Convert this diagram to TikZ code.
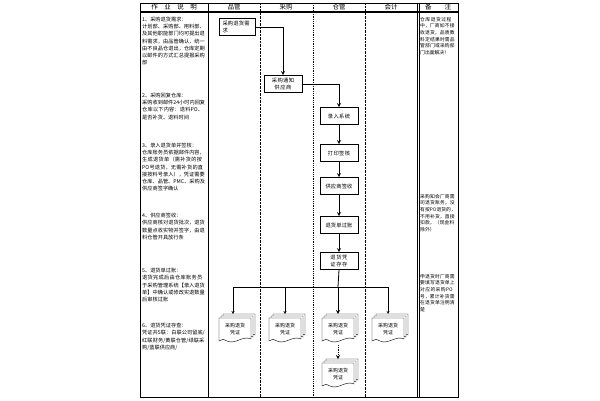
\documentclass[tikz,border=0pt]{standalone}
\usepackage{fontspec}
\setmainfont{Noto Sans CJK SC}
\XeTeXlinebreaklocale "zh"
\XeTeXlinebreakskip=0pt plus 1pt
\usetikzlibrary{positioning}
\tikzset{
  proc/.style={draw, thick, fill=white, minimum width=38pt, minimum height=17pt, inner sep=1.5pt, align=center, text width=29pt, font=\fontsize{5.3}{7}\selectfont},
  note/.style={anchor=north west, align=left, text width=63pt, inner sep=0pt, font=\fontsize{5.2}{7.2}\selectfont},
  head/.style={font=\fontsize{6.5}{7}\selectfont},
  flow/.style={->, >=stealth, thick},
  pics/docstack/.style={code={
    \foreach \d in {4,2,0}{
      \draw[fill=white] (-16+\d,-12-\d) -- (16+\d,-12-\d) -- (16+\d,9-\d)
        .. controls (8+\d,5-\d) and (0+\d,15-\d) .. (-8+\d,11-\d)
        .. controls (-12+\d,9-\d) .. (-16+\d,11-\d) -- cycle;}
    \node[align=center, font=\fontsize{5}{6.5}\selectfont] at (0,-1) {采购退货\\凭证};
  }}
}
\begin{document}
\begin{tikzpicture}[x=1pt, y=-1pt]
\useasboundingbox (0,0) rectangle (600,400);

% table frame
\draw[thick] (140,3) rectangle (458,397);
\draw[thick] (140,11) -- (458,11);
\draw (140,12) -- (458,12);
\draw[thick] (208,3) -- (208,397);
\draw[thick] (417,3) -- (417,397);
\draw (419,3) -- (419,397);
\draw[densely dotted] (260,3) -- (260,397);
\draw[densely dotted, thick] (313,3) -- (313,397);
\draw[densely dotted] (365,3) -- (365,397);

\node[head] (h1) at (174,7) {作\quad 业\quad 说\quad 明};
\node[head] (h2) at (234,7) {品管};
\node[head] (h3) at (286,7) {采购};
\node[head] (h4) at (339,7) {仓管};
\node[head] (h5) at (391,7) {会计};
\node[head] (h6) at (438,7) {备\qquad 注};

% work notes
\node[note] (n1) at (142,17) {1、采购退货需求：\\计划部、采购部、用料部、及其他职能部门均可提出退料需求，由品管确认，统一由不良品仓退出，仓库定期以邮件的方式汇总提报采购部};
\node[note] (n2) at (142,93) {2、采购回复仓库：\\采购收到邮件24小时内回复仓库以下内容：退料PO、是否补货、退料时间};
\node[note] (n3) at (142,143) {3、录入退货单并签核：\\仓库账务员依据邮件内容，生成退货单（需补货的按PO号退货，无需补货的直接按料号录入），凭证需要仓库、品管、PMC、采购及供应商签字确认};
\node[note] (n4) at (142,213) {4、供应商签收：\\供应商核对退货批次，退货数量点收实物并签字，由退料仓管开具放行条};
\node[note] (n5) at (142,268) {5、退货单过账：\\退货完成后由仓库账务员于采购管理系统【录入退货单】中确认或修改实退数量后审核过账};
\node[note] (n6) at (142,323) {6、退货凭证存查：\\凭证共5联：白联公司留底/红联财务/黄联仓管/绿联采购/蓝联供应商/};

% remarks
\node[note, text width=36pt, font=\fontsize{4.8}{6.6}\selectfont] (r1) at (420,17) {仓库退货过程中，厂商如不接收退货，品质教料定结果时需品管部门或采购部门出面解决！};
\node[note, text width=36pt, font=\fontsize{4.8}{6.6}\selectfont] (r2) at (420,194) {采购知会厂商需司退货账务，没有按PO退货的，不用补货，直接扣款，（现金料除外）};
\node[note, text width=36pt, font=\fontsize{4.8}{6.6}\selectfont] (r3) at (420,274) {申退货时厂商需要填写退货单上对应的采购PO号，累计补货需在退货单注明清楚};

% flow
\node[proc, minimum width=36pt, text width=29pt, align=left] (req) at (237,27) {采购退货需求};
\node[proc] (notify) at (283,84) {采购通知供应商};
\node[proc] (entry) at (339,116) {录入系统};
\node[proc] (sign) at (339,153) {打印签核};
\node[proc] (recv) at (339,186) {供应商签收};
\node[proc] (post) at (339,225) {退货单过账};
\node[proc] (keep) at (339,261) {退货凭证存存};

\pic (d1) at (235,330) {docstack};
\pic (d2) at (285,330) {docstack};
\pic (d3) at (338,330) {docstack};
\pic (d4) at (388,330) {docstack};
\pic (d5) at (338,375) {docstack};
\coordinate (t1) at (233,314);
\coordinate (t2) at (285,314);
\coordinate (t3) at (338,314);
\coordinate (t4) at (388,314);
\coordinate (b3) at (338,345);
\coordinate (t5) at (338,359);
\coordinate (bar) at (338,287);

\draw[flow] (req.east) -| (notify.north);
\draw[flow] (notify.east) -| (entry.north);
\draw[flow] (entry) -- (sign);
\draw[flow] (sign) -- (recv);
\draw[flow] (recv) -- (post);
\draw[flow] (post) -- (keep);
\draw[thick] (keep.south) -- (bar);
\draw (233,287) -- (388,287);
\draw[flow] (bar) -- (t3);
\draw[->, >=stealth] (t1 |- bar) -- (t1);
\draw[->, >=stealth] (t2 |- bar) -- (t2);
\draw[->, >=stealth] (t4 |- bar) -- (t4);
\draw[->, >=stealth, densely dotted, thick] (b3) -- (t5);
\end{tikzpicture}
\end{document}
